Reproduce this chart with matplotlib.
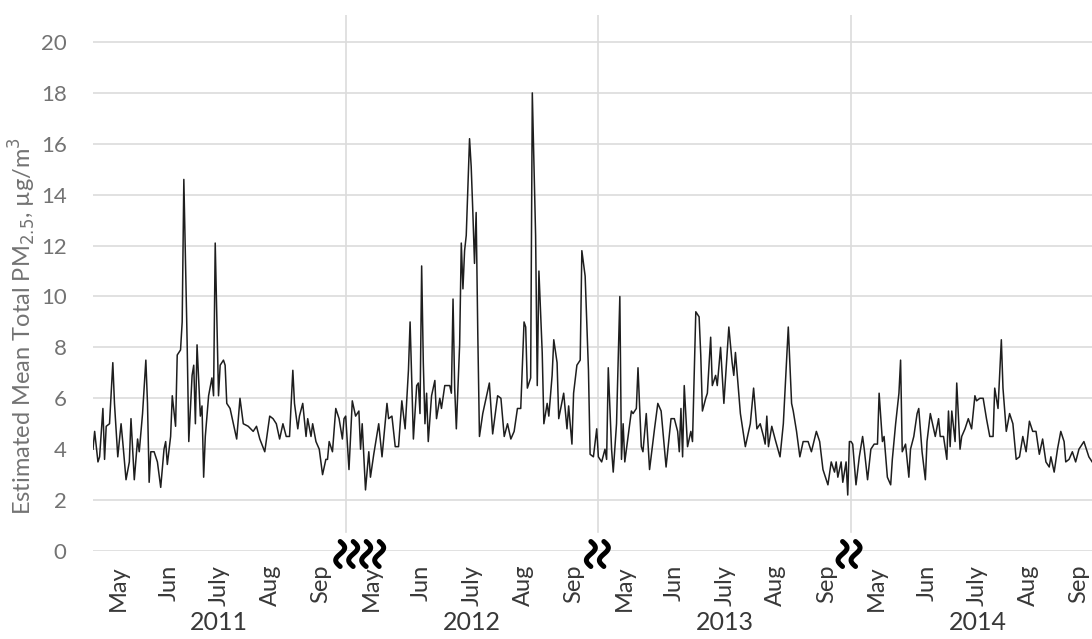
import numpy as np
import matplotlib
matplotlib.use("Agg")
import matplotlib.pyplot as plt
import matplotlib.transforms as mtransforms

# ---- data: daily mean PM2.5 over the May-Sep season, by year ----------------
YEARS = ["2011", "2012", "2013", "2014"]
MONTHS = ["May", "Jun", "July", "Aug", "Sep"]
MONTH_MID = [15.5, 46, 76.5, 107.5, 138]     # day-of-season at month centre
SEASON_DAYS = 153                            # May 1 .. Sep 30

days_2011 = [0, 1, 3, 4, 6, 7, 8, 10, 12, 13,
             15, 17, 18, 20, 22, 23, 25, 27, 28, 30,
             32, 33, 34, 35, 37, 39, 41, 43, 44, 45,
             47, 48, 50, 51, 53, 54, 55, 57, 58, 60,
             61, 62, 63, 65, 66, 67, 68, 70, 72, 73,
             74, 76, 77, 79, 80, 81, 83, 85, 87, 89,
             91, 94, 97, 99, 101, 104, 107, 109, 111, 113,
             115, 117, 119, 121, 122, 124, 125, 127, 129, 130,
             132, 133, 135, 137, 139, 141, 142, 143, 145, 147,
             149, 151, 152]
pm_2011 = [4.0, 4.7, 3.5, 3.7, 5.6, 3.6, 4.9, 5.0, 7.4, 5.8,
           3.7, 5.0, 4.3, 2.8, 3.5, 5.2, 2.8, 4.4, 3.9, 5.4,
           7.5, 5.8, 2.7, 3.9, 3.9, 3.5, 2.5, 4.0, 4.3, 3.4,
           4.5, 6.1, 4.9, 7.7, 7.9, 9.0, 14.6, 8.2, 4.3, 6.9,
           7.3, 5.0, 8.1, 5.3, 5.7, 2.9, 4.5, 6.1, 6.8, 6.1,
           12.1, 6.1, 7.3, 7.5, 7.3, 5.8, 5.6, 5.0, 4.4, 6.0,
           5.0, 4.9, 4.7, 4.9, 4.4, 3.9, 5.3, 5.2, 5.0, 4.4,
           5.0, 4.5, 4.5, 7.1, 5.8, 4.8, 5.3, 5.8, 4.5, 5.2,
           4.5, 5.0, 4.3, 4.0, 3.0, 3.6, 3.6, 4.3, 3.9, 5.6,
           5.2, 4.4, 5.2]

days_2012 = [0, 2, 4, 6, 8, 9, 10, 12, 14, 15,
             17, 20, 22, 25, 26, 28, 30, 32, 34, 36,
             38, 39, 41, 43, 44, 45, 46, 47, 48, 49,
             50, 52, 54, 55, 57, 58, 60, 63, 64, 65,
             66, 67, 69, 70, 71, 72, 73, 75, 76, 77,
             78, 79, 80, 81, 83, 87, 89, 92, 94, 96,
             98, 100, 102, 104, 106, 108, 109, 110, 112, 113,
             115, 116, 117, 119, 120, 122, 123, 125, 126, 128,
             129, 132, 134, 135, 137, 138, 140, 142, 143, 145,
             147, 148, 150, 152]
pm_2012 = [5.3, 3.2, 5.9, 5.3, 5.5, 4.0, 5.0, 2.4, 3.9, 2.9,
           3.8, 5.0, 3.7, 5.8, 5.2, 5.3, 4.1, 4.1, 5.9, 4.8,
           7.1, 9.0, 4.4, 6.5, 6.6, 5.4, 11.2, 7.4, 5.0, 6.2,
           4.3, 6.1, 6.7, 5.2, 6.0, 5.6, 6.5, 6.5, 6.2, 9.9,
           6.4, 4.8, 8.1, 12.1, 10.3, 11.8, 12.4, 16.2, 15.1, 13.3,
           11.3, 13.3, 8.5, 4.5, 5.4, 6.6, 4.6, 6.1, 6.0, 4.5,
           5.0, 4.4, 4.7, 5.6, 5.6, 9.0, 8.8, 6.4, 6.8, 18.0,
           12.4, 6.5, 11.0, 7.8, 5.0, 5.8, 5.3, 6.9, 8.3, 7.4,
           5.2, 6.2, 4.8, 5.7, 4.2, 6.2, 7.3, 7.5, 11.8, 10.8,
           7.1, 3.8, 3.7, 4.8]

days_2013 = [0, 2, 4, 5, 6, 8, 9, 11, 13, 14,
             15, 16, 18, 20, 21, 23, 24, 26, 27, 29,
             31, 34, 36, 38, 41, 44, 46, 48, 49, 50,
             51, 52, 54, 56, 57, 59, 61, 62, 63, 65,
             66, 68, 69, 71, 72, 74, 76, 78, 79, 81,
             82, 83, 86, 89, 92, 94, 96, 98, 100, 101,
             102, 103, 105, 107, 110, 112, 115, 117, 118, 120,
             122, 124, 127, 129, 132, 134, 136, 139, 141, 143,
             144, 145, 147, 148, 150, 151, 152]
pm_2013 = [3.7, 3.5, 4.0, 3.6, 7.2, 4.0, 3.1, 5.0, 10.0, 3.6,
           5.0, 3.5, 4.5, 5.5, 5.4, 5.6, 7.2, 4.1, 3.9, 5.4,
           3.2, 4.8, 5.8, 5.5, 3.3, 5.2, 5.2, 4.7, 3.9, 5.6,
           3.7, 6.5, 4.1, 4.7, 4.3, 9.4, 9.2, 7.7, 5.5, 6.0,
           6.2, 8.4, 6.5, 6.9, 6.5, 8.0, 5.8, 7.8, 8.8, 7.4,
           6.9, 7.8, 5.4, 4.1, 5.0, 6.4, 4.8, 5.0, 4.5, 4.2,
           5.3, 4.1, 4.9, 4.4, 3.7, 5.0, 8.8, 5.8, 5.5, 4.7,
           3.7, 4.3, 4.3, 3.9, 4.7, 4.3, 3.2, 2.6, 3.5, 3.1,
           3.5, 2.9, 3.5, 2.7, 3.5, 2.2, 4.3]

days_2014 = [0, 1, 3, 5, 7, 8, 10, 12, 14, 16,
             17, 19, 20, 22, 24, 25, 27, 29, 30, 31,
             33, 35, 36, 38, 40, 41, 43, 45, 46, 48,
             49, 51, 53, 54, 56, 58, 59, 60, 61, 63,
             64, 66, 67, 69, 71, 73, 75, 76, 78, 80,
             82, 84, 86, 87, 89, 91, 92, 94, 96, 98,
             100, 102, 104, 106, 108, 110, 112, 114, 116, 118,
             120, 121, 123, 125, 127, 129, 130, 132, 134, 136,
             138, 141, 142, 144, 146]
pm_2014 = [4.3, 4.2, 2.6, 3.7, 4.5, 4.0, 2.8, 4.0, 4.2, 4.2,
           6.2, 4.3, 4.5, 2.9, 2.6, 3.6, 5.0, 6.2, 7.5, 3.9,
           4.2, 2.9, 4.0, 4.5, 5.4, 5.6, 3.9, 2.8, 4.3, 5.4,
           5.1, 4.5, 5.2, 4.5, 4.5, 3.6, 5.5, 4.1, 5.5, 4.3,
           6.6, 4.0, 4.5, 4.8, 5.2, 4.8, 6.1, 5.9, 6.0, 6.0,
           5.2, 4.5, 4.5, 6.4, 5.6, 8.3, 6.4, 4.7, 5.4, 5.0,
           3.6, 3.7, 4.5, 3.9, 5.1, 4.7, 4.7, 3.8, 4.4, 3.5,
           3.3, 3.7, 3.1, 4.0, 4.7, 4.3, 3.5, 3.6, 3.9, 3.5,
           4.0, 4.3, 4.1, 3.7, 3.5]

season_days = [days_2011, days_2012, days_2013, days_2014]
season_pm = [pm_2011, pm_2012, pm_2013, pm_2014]

# ---- style -----------------------------------------------------------------
FONT = ["Lato", "DejaVu Sans"]
GRID = "#dcdcdc"
TICK_GRAY = "#737373"
LABEL_DARK = "#383838"
LINE = "#1e1e1e"

plt.rcParams["font.family"] = FONT

fig = plt.figure(figsize=(10.92, 6.39), dpi=100)
ax = fig.add_axes([93 / 1092, 88 / 639, 999 / 1092, 536 / 639])

# one continuous series, seasons laid end to end
x = np.concatenate([k * SEASON_DAYS + np.asarray(d, float)
                    for k, d in enumerate(season_days)])
y = np.concatenate([np.asarray(v, float) for v in season_pm])
ax.plot(x, y, color=LINE, lw=1.1, zorder=3)

# horizontal gridlines and year separators
for s in ax.spines.values():
    s.set_visible(False)
ax.set_yticks(np.arange(0, 21, 2))
ax.yaxis.grid(True, color=GRID, lw=1.2)
ax.set_axisbelow(True)
for k in range(1, len(YEARS)):
    ax.axvline(k * SEASON_DAYS, ymin=0.035, ymax=1, color=GRID, lw=1.2, zorder=1)

ax.tick_params(axis="y", length=0, pad=19, labelsize=16, labelcolor=TICK_GRAY)

# month ticks (rotated) and year labels underneath
ticks, labels = [], []
for k in range(len(YEARS)):
    ticks += [k * SEASON_DAYS + m for m in MONTH_MID]
    labels += MONTHS
ax.set_xticks(ticks)
ax.set_xticklabels(labels, rotation=90, fontsize=17, color=LABEL_DARK)
ax.tick_params(axis="x", length=0, pad=10)

ytrans = mtransforms.blended_transform_factory(ax.transData, ax.transAxes)
for k, yr in enumerate(YEARS):
    ax.text(k * SEASON_DAYS + SEASON_DAYS / 2, -0.133, yr, transform=ytrans,
            ha="center", va="center", fontsize=18, color=LABEL_DARK)

fig.text(22 / 1092, 1 - 326 / 639, "Estimated Mean Total PM$_{2.5}$, µg/m$^3$",
         rotation=90, ha="center", va="center", fontsize=17, color=TICK_GRAY)


# squiggly axis-break marks at the season joins
def break_mark(xd, shift_px):
    trans = fig.dpi_scale_trans + mtransforms.ScaledTranslation(xd, 0, ax.transData)
    t = np.linspace(0, 1, 40)
    for gx in (-6.5, 6.5):
        px = shift_px + gx + 4.5 * np.sin(2 * np.pi * t)
        py = -3 + 12.5 - 25 * t
        ax.plot(px / 100, py / 100, transform=trans, color="black", lw=3.6,
                solid_capstyle="round", clip_on=False, zorder=10)


break_mark(1 * SEASON_DAYS, 1)
break_mark(1 * SEASON_DAYS, 27)
break_mark(2 * SEASON_DAYS, -1)
break_mark(3 * SEASON_DAYS, -2)

ax.set_xlim(0, 604.9)
ax.set_ylim(0, 21.06)

fig.savefig("out.png", dpi=100, facecolor="white")
